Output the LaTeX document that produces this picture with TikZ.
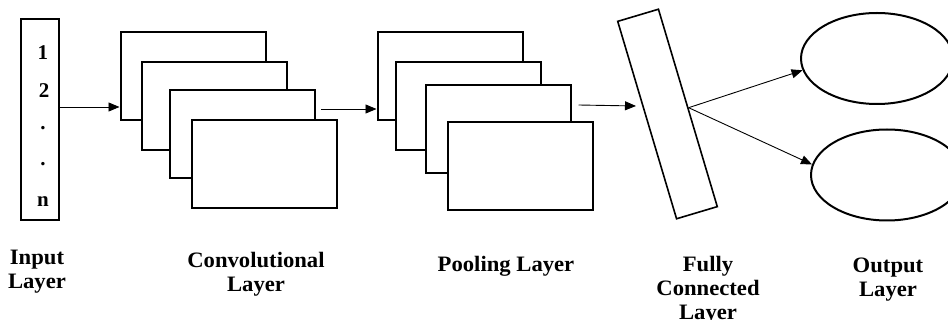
\documentclass[tikz,border=0pt]{standalone}
\usepackage{fontspec}
\setmainfont{Liberation Serif}
\usetikzlibrary{shapes.geometric,arrows.meta}
\begin{document}
\begin{tikzpicture}[x=1pt,y=-1pt,
  layerbox/.style={draw=black,line width=2pt,fill=white,minimum width=145pt,minimum height=88pt,inner sep=0pt,anchor=center},
  arr/.style={line width=0.9pt,-{Triangle[length=11pt,width=9pt]}},
  lbl/.style={font=\fontsize{22}{24}\selectfont\bfseries,align=center,inner sep=0pt,xscale=1.03},
  num/.style={font=\fontsize{21}{22}\selectfont\bfseries,inner sep=0pt},
  outnode/.style={draw=black,line width=2pt,ellipse,minimum width=152pt,minimum height=91pt,inner sep=0pt}]
\useasboundingbox (0,0) rectangle (948,320);
\clip (0,0) rectangle (948,320);
% input
\node[draw=black,line width=2pt,minimum width=38pt,minimum height=201pt,inner sep=0pt] (inp) at (40,119.5) {};
\node[num] (n1) at (43,53) {1};
\node[num] (n2) at (44,91) {2};
\node[num] (n3) at (43,128) {.};
\node[num] (n4) at (43,164) {.};
\node[num] (n5) at (43,202) {n};
% conv
\node[layerbox] (c1) at (193,76) {};
\node[layerbox] (c2) at (214,106) {};
\node[layerbox] (c3) at (242.5,134) {};
\node[layerbox] (c4) at (264,164) {};
% pool
\node[layerbox] (p1) at (450,76) {};
\node[layerbox] (p2) at (468.5,106) {};
\node[layerbox] (p3) at (498,129.5) {};
\node[layerbox] (p4) at (520,166.5) {};
% fc
\node[draw=black,line width=1.6pt,fill=white,minimum width=42.5pt,minimum height=206pt,inner sep=0pt,rotate=16.6] (fc) at (667.5,114) {};
% outputs
\node[outnode] (o1) at (877,58.5) {};
\node[outnode] (o2) at (887,175) {};
% connectors
\draw[arr] (inp.east |- 0,107) -- (c1.west |- 0,107);
\draw[arr] ([xshift=5pt]c3.east |- 0,109) -- (p1.west |- 0,109);
\coordinate (fcin) at (636,106);
\draw[arr] ([xshift=7pt]p3.east |- 0,105) -- (fcin);
\draw[arr] (fc.east) -- (o1.189);
\draw[arr] (fc.east) -- (o2.172);
% labels
\node[lbl] (l1) at (37,272) {Input\\Layer};
\node[lbl] (l2) at (256,274) {Convolutional\\Layer};
\node[lbl] (l3) at (506,266) {Pooling Layer};
\node[lbl] (l4) at (708,290) {Fully\\Connected\\Layer};
\node[lbl] (l5) at (888,280) {Output\\Layer};
\end{tikzpicture}
\end{document}
